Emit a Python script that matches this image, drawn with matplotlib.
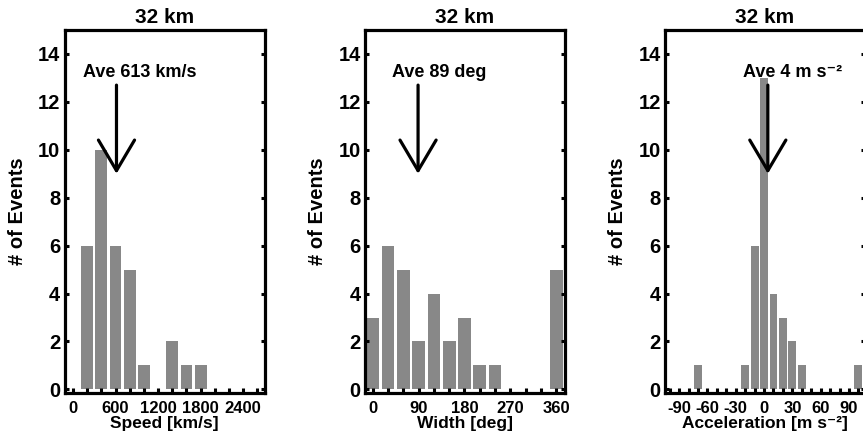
"""
Histograms of event speed, width and acceleration at 32 km
"""

import numpy as np
import matplotlib
matplotlib.use('Agg')
import matplotlib.pyplot as plt
from matplotlib.ticker import FixedLocator

plt.rcParams['font.family'] = ['Liberation Sans', 'DejaVu Sans']
plt.rcParams['font.weight'] = 'bold'

title = '32 km'

# speed histogram
speed_bins = [200, 400, 600, 800, 1000, 1200, 1400, 1600, 1800]
speed_counts = [6, 10, 6, 5, 1, 0, 2, 1, 1]
speed_ave = 613

# width histogram
width_bins = [0, 30, 60, 90, 120, 150, 180, 210, 240, 270, 300, 330, 360]
width_counts = [3, 6, 5, 2, 4, 2, 3, 1, 1, 0, 0, 0, 5]
width_ave = 89

# acceleration histogram
acc_bins = [-100, -90, -80, -70, -60, -50, -40, -30, -20, -10, 0, 10, 20,
            30, 40, 50, 60, 70, 80, 90, 100]
acc_counts = [0, 0, 0, 1, 0, 0, 0, 0, 1, 6, 13, 4, 3, 2, 1, 0, 0, 0, 0, 0, 1]
acc_ave = 4

panels = [
    dict(x=speed_bins, y=speed_counts, step=200, ave=speed_ave,
         text='Ave 613 km/s', text_x=940, xlim=(-120, 2700),
         labels=[0, 600, 1200, 1800, 2400], ticks=np.arange(0, 2700, 200),
         xlabel='Speed [km/s]', left=64.5),
    dict(x=width_bins, y=width_counts, step=30, ave=width_ave,
         text='Ave 89 deg', text_x=130, xlim=(-15, 377),
         labels=[0, 90, 180, 270, 360], ticks=np.arange(0, 361, 30),
         xlabel='Width [deg]', left=365),
    dict(x=acc_bins, y=acc_counts, step=10, ave=acc_ave,
         text='Ave 4 m s\u207b\u00b2', text_x=30, xlim=(-105, 107),
         labels=[-90, -60, -30, 0, 30, 60, 90], ticks=np.arange(-100, 101, 10),
         xlabel='Acceleration [m s\u207b\u00b2]', left=665),
]

W, H = 863, 440
fig = plt.figure(figsize=(W / 100, H / 100), dpi=100)

for p in panels:
    ax = fig.add_axes([p['left'] / W, 1 - 393 / H, 200 / W, 363 / H])
    ax.bar(p['x'], p['y'], width=0.83 * p['step'], color='#888888')

    ax.set_xlim(*p['xlim'])
    ax.set_ylim(-0.15, 15)

    ax.xaxis.set_major_locator(FixedLocator(p['labels']))
    ax.xaxis.set_minor_locator(FixedLocator(p['ticks']))
    ax.set_xticklabels([str(v) for v in p['labels']])
    ax.set_yticks(range(0, 15, 2))

    for s in ax.spines.values():
        s.set_linewidth(2.3)
    ax.tick_params(axis='x', which='both', direction='in', length=3.5,
                   width=2.2, labelsize=12, pad=6, top=False)
    ax.tick_params(axis='y', which='both', direction='in', length=3,
                   width=2.2, labelsize=14.5, pad=3, right=True)

    ax.set_title(title, fontsize=15, fontweight='bold', pad=5)
    ax.set_xlabel(p['xlabel'], fontsize=12.5, fontweight='bold', labelpad=0)
    ax.set_ylabel('# of Events', fontsize=14.5, fontweight='bold', labelpad=8)

    ax.annotate('', xy=(p['ave'], 9), xytext=(p['ave'], 12.7),
                arrowprops=dict(arrowstyle='->,head_length=2.2,head_width=1.3',
                                mutation_scale=10, color='black', lw=2.3,
                                shrinkA=0, shrinkB=0))
    ax.text(p['text_x'], 13.05, p['text'], ha='center', va='baseline',
            fontsize=13, fontweight='bold')

fig.savefig('out.png', dpi=100)
